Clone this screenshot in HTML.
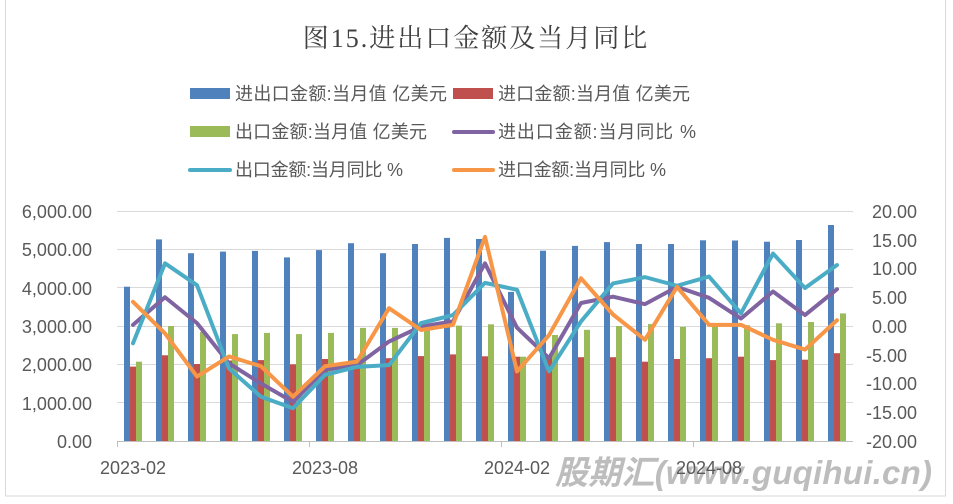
<!DOCTYPE html>
<html><head><meta charset="utf-8"><style>
html,body{margin:0;padding:0;background:#fff;}
svg{display:block;}
text{font-family:"Liberation Sans","Noto Sans CJK SC",sans-serif;fill:#595959;}
</style></head><body>
<svg width="953" height="504" viewBox="0 0 953 504" xmlns="http://www.w3.org/2000/svg">
<rect x="0" y="0" width="953" height="504" fill="#fff"/>
<rect x="5.5" y="-2" width="940" height="498" fill="none" stroke="#d9d9d9" stroke-width="1"/>
<text x="476" y="47" text-anchor="middle" font-size="26" letter-spacing="2" style="font-family:'Liberation Serif','Noto Serif CJK SC',serif;fill:#404040">图15.进出口金额及当月同比</text>

<!-- legend -->
<g font-size="18">
<rect x="190" y="88" width="40" height="11" fill="#4F81BD"/><text x="235" y="100" textLength="212">进出口金额:当月值 亿美元</text>
<rect x="453" y="88" width="40" height="11" fill="#C0504D"/><text x="498" y="100" textLength="192">进口金额:当月值 亿美元</text>
<rect x="190" y="126" width="40" height="11" fill="#9BBB59"/><text x="235" y="138" textLength="192">出口金额:当月值 亿美元</text>
<line x1="454" y1="132" x2="493" y2="132" stroke="#8064A2" stroke-width="4" stroke-linecap="round"/><text x="498" y="138" textLength="198">进出口金额:当月同比 %</text>
<line x1="190" y1="170" x2="230" y2="170" stroke="#4BACC6" stroke-width="4" stroke-linecap="round"/><text x="235" y="176" textLength="168">出口金额:当月同比 %</text>
<line x1="454" y1="170" x2="493" y2="170" stroke="#F79646" stroke-width="4" stroke-linecap="round"/><text x="498" y="176" textLength="168">进口金额:当月同比 %</text>
</g>

<!-- grid -->
<g stroke="#d9d9d9" stroke-width="1">
<line x1="117" y1="211.5" x2="853" y2="211.5"/>
<line x1="117" y1="249.5" x2="853" y2="249.5"/>
<line x1="117" y1="287.5" x2="853" y2="287.5"/>
<line x1="117" y1="326.5" x2="853" y2="326.5"/>
<line x1="117" y1="364.5" x2="853" y2="364.5"/>
<line x1="117" y1="402.5" x2="853" y2="402.5"/>
</g>
<g stroke="#bfbfbf" stroke-width="1">
<line x1="117" y1="441.5" x2="853" y2="441.5"/>
<line x1="117.5" y1="441" x2="117.5" y2="447"/>
<line x1="309.5" y1="441" x2="309.5" y2="447"/>
<line x1="501.5" y1="441" x2="501.5" y2="447"/>
<line x1="693.5" y1="441" x2="693.5" y2="447"/>
</g>

<!-- axis labels -->
<g font-size="18" text-anchor="end">
<text x="92" y="218">6,000.00</text>
<text x="92" y="256">5,000.00</text>
<text x="92" y="295">4,000.00</text>
<text x="92" y="333">3,000.00</text>
<text x="92" y="371">2,000.00</text>
<text x="92" y="410">1,000.00</text>
<text x="92" y="448">0.00</text>
</g>
<g font-size="18">
<text x="872" y="218">20.00</text>
<text x="872" y="247">15.00</text>
<text x="872" y="275">10.00</text>
<text x="872" y="304">5.00</text>
<text x="872" y="333">0.00</text>
<text x="866" y="362">-5.00</text>
<text x="866" y="390">-10.00</text>
<text x="866" y="419">-15.00</text>
<text x="866" y="448">-20.00</text>
</g>

<!-- watermark -->
<text x="555" y="484" font-size="33" font-weight="bold" font-style="italic" textLength="377" style="fill:#bdbdbd;font-family:'Liberation Sans','Noto Sans CJK SC',sans-serif">股期汇(www.guqihui.cn)</text>

<g font-size="18" text-anchor="middle">
<text x="133" y="474">2023-02</text>
<text x="325" y="474">2023-08</text>
<text x="517" y="474">2024-02</text>
<text x="709" y="474">2024-08</text>
</g>

<!-- bars -->
<g transform="translate(0,441) scale(1,-1)">
<g fill="#4F81BD">
<rect x="124" y="0" width="6" height="154.3"/><rect x="156" y="0" width="6" height="201.6"/><rect x="188" y="0" width="6" height="187.8"/><rect x="220" y="0" width="6" height="189.4"/><rect x="252" y="0" width="6" height="190.1"/><rect x="284" y="0" width="6" height="183.6"/><rect x="316" y="0" width="6" height="190.9"/><rect x="348" y="0" width="6" height="197.8"/><rect x="380" y="0" width="6" height="187.8"/><rect x="412" y="0" width="6" height="197.0"/><rect x="444" y="0" width="6" height="203.1"/><rect x="476" y="0" width="6" height="202.0"/><rect x="508" y="0" width="6" height="149.1"/><rect x="540" y="0" width="6" height="190.3"/><rect x="572" y="0" width="6" height="195.1"/><rect x="604" y="0" width="6" height="198.9"/><rect x="636" y="0" width="6" height="197.0"/><rect x="668" y="0" width="6" height="197.0"/><rect x="700" y="0" width="6" height="200.7"/><rect x="732" y="0" width="6" height="200.5"/><rect x="764" y="0" width="6" height="199.3"/><rect x="796" y="0" width="6" height="201.0"/><rect x="828" y="0" width="6" height="216.0"/>
</g>
<g fill="#C0504D">
<rect x="130" y="0" width="6" height="74.4"/><rect x="162" y="0" width="6" height="85.7"/><rect x="194" y="0" width="6" height="77.0"/><rect x="226" y="0" width="6" height="80.5"/><rect x="258" y="0" width="6" height="80.9"/><rect x="290" y="0" width="6" height="76.7"/><rect x="322" y="0" width="6" height="82.0"/><rect x="354" y="0" width="6" height="82.4"/><rect x="386" y="0" width="6" height="82.8"/><rect x="418" y="0" width="6" height="84.9"/><rect x="450" y="0" width="6" height="86.6"/><rect x="482" y="0" width="6" height="84.7"/><rect x="514" y="0" width="6" height="84.3"/><rect x="546" y="0" width="6" height="84.3"/><rect x="578" y="0" width="6" height="83.8"/><rect x="610" y="0" width="6" height="83.8"/><rect x="642" y="0" width="6" height="79.3"/><rect x="674" y="0" width="6" height="82.0"/><rect x="706" y="0" width="6" height="82.8"/><rect x="738" y="0" width="6" height="84.3"/><rect x="770" y="0" width="6" height="80.9"/><rect x="802" y="0" width="6" height="81.3"/><rect x="834" y="0" width="6" height="87.8"/>
</g>
<g fill="#9BBB59">
<rect x="136" y="0" width="6" height="79.3"/><rect x="168" y="0" width="6" height="115.0"/><rect x="200" y="0" width="6" height="109.2"/><rect x="232" y="0" width="6" height="106.9"/><rect x="264" y="0" width="6" height="108.1"/><rect x="296" y="0" width="6" height="106.9"/><rect x="328" y="0" width="6" height="108.1"/><rect x="360" y="0" width="6" height="113.1"/><rect x="392" y="0" width="6" height="113.1"/><rect x="424" y="0" width="6" height="111.2"/><rect x="456" y="0" width="6" height="115.4"/><rect x="488" y="0" width="6" height="116.7"/><rect x="520" y="0" width="6" height="84.3"/><rect x="552" y="0" width="6" height="106.0"/><rect x="584" y="0" width="6" height="111.2"/><rect x="616" y="0" width="6" height="115.0"/><rect x="648" y="0" width="6" height="116.9"/><rect x="680" y="0" width="6" height="114.2"/><rect x="712" y="0" width="6" height="115.8"/><rect x="744" y="0" width="6" height="115.8"/><rect x="776" y="0" width="6" height="117.7"/><rect x="808" y="0" width="6" height="119.0"/><rect x="840" y="0" width="6" height="127.6"/>
</g>
</g>

<!-- lines -->
<g transform="translate(0,326) scale(1,-5.75)" fill="none" stroke-width="4" stroke-linejoin="round" stroke-linecap="round">
<polyline vector-effect="non-scaling-stroke" stroke="#8064A2" points="133,0.2 165,5.0 197,0.5 229,-6.5 261,-10 293,-13.2 325,-7.6 357,-6.8 389,-2.7 421,-0.1 453,0.8 485,10.9 517,-0.3 549,-5.6 581,4.0 613,5.1 645,3.8 677,6.8 709,4.9 741,1.3 773,6.0 805,1.9 837,6.4"/>
<polyline vector-effect="non-scaling-stroke" stroke="#4BACC6" points="133,-3.0 165,10.9 197,7.1 229,-7.4 261,-12.3 293,-14.3 325,-8.5 357,-7.1 389,-6.8 421,0.5 453,1.9 485,7.5 517,6.3 549,-7.9 581,0.8 613,7.4 645,8.5 677,7.0 709,8.6 741,2.2 773,12.6 805,6.6 837,10.6"/>
<polyline vector-effect="non-scaling-stroke" stroke="#F79646" points="133,4.2 165,-1.3 197,-8.8 229,-5.3 261,-7.0 293,-12.3 325,-7.0 357,-6.2 389,3.1 421,-0.7 453,0.2 485,15.5 517,-7.9 549,-1.6 581,8.3 613,2.0 645,-2.4 677,6.8 709,0.2 741,0.2 773,-2.4 805,-4.1 837,1.0"/>
</g>
</svg>
</body></html>
